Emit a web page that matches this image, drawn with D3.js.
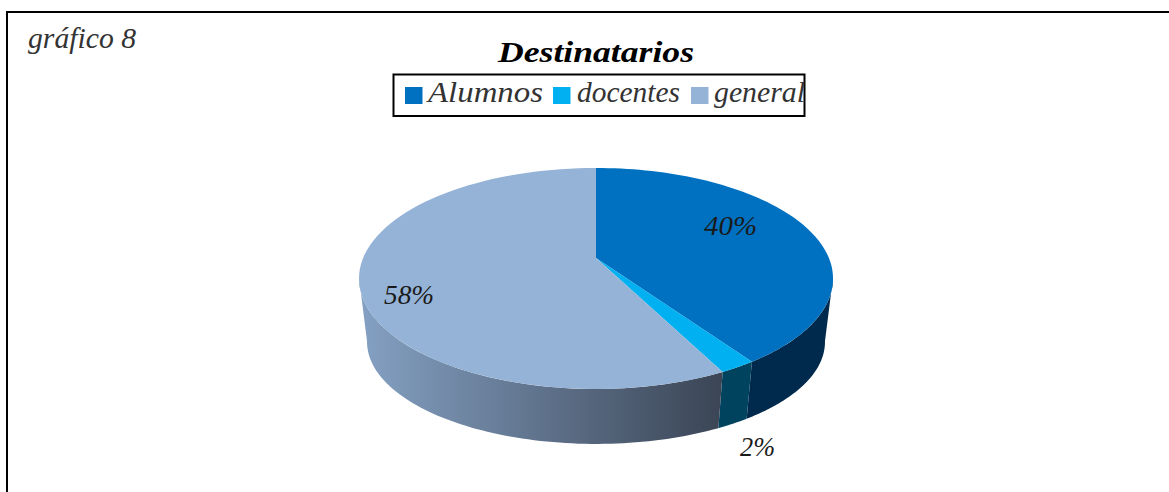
<!DOCTYPE html>
<html><head><meta charset="utf-8">
<script src="https://cdn.jsdelivr.net/npm/d3@7/dist/d3.min.js"></script>
<style>html,body{margin:0;background:#fff;overflow:hidden}text{font-family:"Liberation Serif",serif;font-style:italic}</style>
</head><body><svg id="c" width="1169" height="492" style="display:block"></svg>
<script>
const categories=["Alumnos","docentes","general"];
const values=[40.4,2.1,57.5];
const labels=["40%","2%","58%"];
const colors=["#0070C0","#00B0F0","#95B3D7"];
const svg=d3.select("#c");
const cx=596,apexY=258,k=-0.1855;
const topRim={c:232.9,a:106.7,y0:apexY};
const botRim={c:225,a:98.5,y0:323};
const pie=d3.pie().sort(null)(values);
const defs=svg.append("defs");
const project=(t,rim)=>{const u=Math.sin(t),v=-Math.cos(t),w=1+k*v;return [cx+rim.c*u/w,rim.y0+rim.a*v/w];};
const rimPts=(a0,a1,rim)=>d3.range(0,81).map(i=>project(a0+(a1-a0)*i/80,rim));
const line=d3.line();
svg.append("rect").attr("x",7).attr("y",12).attr("width",1175).attr("height",495).attr("fill","#fff").attr("stroke","#000").attr("stroke-width",2);
const sideFills=["#002a4d","#00435f",null];
const grad=defs.append("linearGradient").attr("id","sideGrad").attr("gradientUnits","userSpaceOnUse").attr("x1",362).attr("x2",725).attr("y1",0).attr("y2",0);
grad.append("stop").attr("offset",0).attr("stop-color","#84a0c2");
grad.append("stop").attr("offset",1).attr("stop-color","#3a4454");
const silhouette=Math.acos(-0.18);
pie.forEach((d,i)=>{
 const a0=Math.max(d.startAngle,silhouette),a1=Math.min(d.endAngle,2*Math.PI-silhouette);
 if(a1<=a0)return;
 const pts=[...rimPts(a0,a1,topRim),...rimPts(a0,a1,botRim).reverse()];
 svg.append("path").attr("d",line(pts)+"Z").attr("fill",sideFills[i]||"url(#sideGrad)");
});
pie.forEach((d,i)=>{
 const pts=[[cx,apexY],...rimPts(d.startAngle,d.endAngle,topRim)];
 svg.append("path").attr("d",line(pts)+"Z").attr("fill",colors[i]);
});
const fit=(sel,w)=>sel.attr("textLength",w).attr("lengthAdjust","spacingAndGlyphs");
const lp=[[704,235,53],[740,456,35],[384,304,50]];
labels.forEach((t,i)=>fit(svg.append("text").attr("x",lp[i][0]).attr("y",lp[i][1]).attr("font-size",27).attr("fill","#1a1a1a").text(t),lp[i][2]));
fit(svg.append("text").attr("x",498).attr("y",62).attr("font-size",29).attr("font-weight","bold").attr("fill","#000").text("Destinatarios"),196);
fit(svg.append("text").attr("x",28).attr("y",48).attr("font-size",29).attr("fill","#333").text("gráfico 8"),108);
svg.append("rect").attr("x",393.5).attr("y",74.5).attr("width",411).attr("height",41.5).attr("fill","#fff").attr("stroke","#000").attr("stroke-width",2);
const lx=[405,553,691],tx=[428,577,714],tw=[115,103,91];
categories.forEach((c,i)=>{
 svg.append("rect").attr("x",lx[i]).attr("y",87).attr("width",17.5).attr("height",17).attr("fill",colors[i]);
 fit(svg.append("text").attr("x",tx[i]).attr("y",102).attr("font-size",29).attr("fill","#333").text(c),tw[i]);
});
</script></body></html>
